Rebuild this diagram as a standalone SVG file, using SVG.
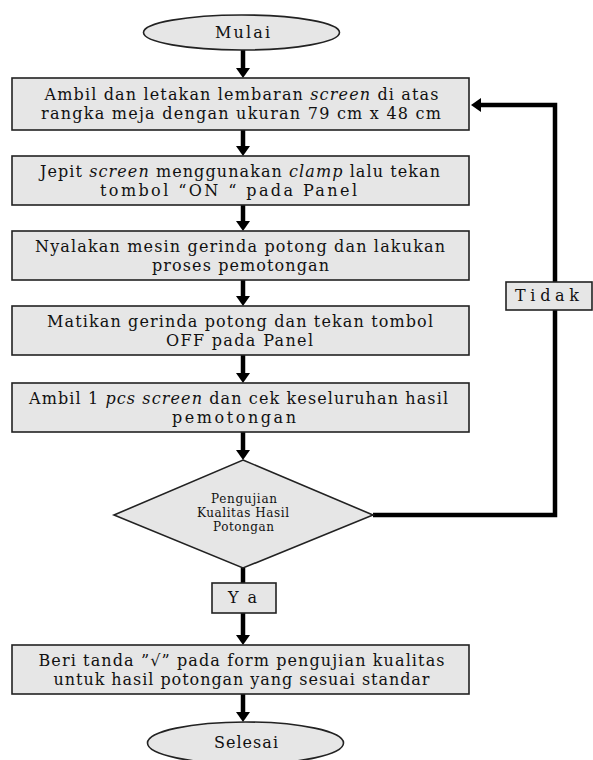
<svg xmlns="http://www.w3.org/2000/svg" width="593" height="760" viewBox="0 0 593 760">
<defs>
<style>
.shape{fill:#e6e6e6;stroke:#222;stroke-width:1.6}
.t{font-family:"DejaVu Serif","Liberation Serif",serif;font-size:16px;fill:#111}
.s{font-family:"DejaVu Serif","Liberation Serif",serif;font-size:12px;fill:#111}
.i{font-style:italic}
.c{fill:none;stroke:#000;stroke-width:4.5}
</style>
<marker id="ah" viewBox="0 0 10 14" refX="0" refY="7" markerWidth="10" markerHeight="14" markerUnits="userSpaceOnUse" orient="auto">
<path d="M0,0 L10,7 L0,14 z" fill="#000"/>
</marker>
</defs>
<rect width="593" height="760" fill="#fff"/>
<g id="connectors">
<line class="c" x1="243" y1="50" x2="243" y2="68" marker-end="url(#ah)"/>
<line class="c" x1="243" y1="130" x2="243" y2="146" marker-end="url(#ah)"/>
<line class="c" x1="243" y1="205" x2="243" y2="221" marker-end="url(#ah)"/>
<line class="c" x1="243" y1="280" x2="243" y2="296" marker-end="url(#ah)"/>
<line class="c" x1="243" y1="355" x2="243" y2="373" marker-end="url(#ah)"/>
<line class="c" x1="243" y1="432" x2="243" y2="450" marker-end="url(#ah)"/>
<line class="c" x1="243" y1="568" x2="243" y2="583"/>
<line class="c" x1="243" y1="613" x2="243" y2="635" marker-end="url(#ah)"/>
<line class="c" x1="243" y1="694" x2="243" y2="712" marker-end="url(#ah)"/>
<path class="c" d="M373,515 H555 V105 H481" marker-end="url(#ah)"/>
</g>
<g id="mulai">
<ellipse class="shape" cx="241.5" cy="32.5" rx="98" ry="17.5"/>
<text class="t" x="215" y="38" textLength="55" lengthAdjust="spacing">Mulai</text>
</g>
<g id="step1">
<rect class="shape" x="12" y="78" width="457" height="52"/>
<text class="t" x="44.5" y="100" textLength="394" lengthAdjust="spacing">Ambil dan letakan lembaran <tspan class="i">screen</tspan> di atas</text>
<text class="t" x="41" y="119" textLength="400" lengthAdjust="spacing">rangka meja dengan ukuran 79 cm x 48 cm</text>
</g>
<g id="step2">
<rect class="shape" x="12" y="156" width="457" height="49"/>
<text class="t" x="40" y="177" textLength="400" lengthAdjust="spacing">Jepit <tspan class="i">screen</tspan> menggunakan <tspan class="i">clamp</tspan> lalu tekan</text>
<text class="t" x="100" y="196" textLength="257" lengthAdjust="spacing">tombol “ON “ pada Panel</text>
</g>
<g id="step3">
<rect class="shape" x="12" y="231" width="457" height="49"/>
<text class="t" x="35" y="252" textLength="410" lengthAdjust="spacing">Nyalakan mesin gerinda potong dan lakukan</text>
<text class="t" x="152" y="271" textLength="177" lengthAdjust="spacing">proses pemotongan</text>
</g>
<g id="step4">
<rect class="shape" x="12" y="306" width="457" height="49"/>
<text class="t" x="47" y="327" textLength="386" lengthAdjust="spacing">Matikan gerinda potong dan tekan tombol</text>
<text class="t" x="166" y="346" textLength="147" lengthAdjust="spacing">OFF pada Panel</text>
</g>
<g id="step5">
<rect class="shape" x="12" y="383" width="457" height="49"/>
<text class="t" x="29" y="404" textLength="419" lengthAdjust="spacing">Ambil 1 <tspan class="i">pcs screen</tspan> dan cek keseluruhan hasil</text>
<text class="t" x="172" y="423" textLength="124" lengthAdjust="spacing">pemotongan</text>
</g>
<g id="decision">
<polygon class="shape" points="243,460 373,515 243,568 114,515"/>
<text class="s" x="211" y="503" textLength="66" lengthAdjust="spacing">Pengujian</text>
<text class="s" x="197" y="517" textLength="92" lengthAdjust="spacing">Kualitas Hasil</text>
<text class="s" x="213" y="531" textLength="61" lengthAdjust="spacing">Potongan</text>
</g>
<g id="label-tidak">
<rect class="shape" x="506" y="282" width="86" height="28"/>
<text class="t" x="515" y="301" textLength="64" lengthAdjust="spacing">Tidak</text>
</g>
<g id="label-ya">
<rect class="shape" x="212" y="583" width="64" height="30"/>
<text class="t" x="228" y="603" textLength="29" lengthAdjust="spacing">Ya</text>
</g>
<g id="step6">
<rect class="shape" x="12" y="645" width="457" height="49"/>
<text class="t" x="38.5" y="666" textLength="406" lengthAdjust="spacing">Beri tanda ”√” pada form pengujian kualitas</text>
<text class="t" x="53.5" y="685" textLength="376" lengthAdjust="spacing">untuk hasil potongan yang sesuai standar</text>
</g>
<g id="selesai">
<ellipse class="shape" cx="245.5" cy="743" rx="98" ry="21"/>
<text class="t" x="214" y="748" textLength="64" lengthAdjust="spacing">Selesai</text>
</g>
</svg>
